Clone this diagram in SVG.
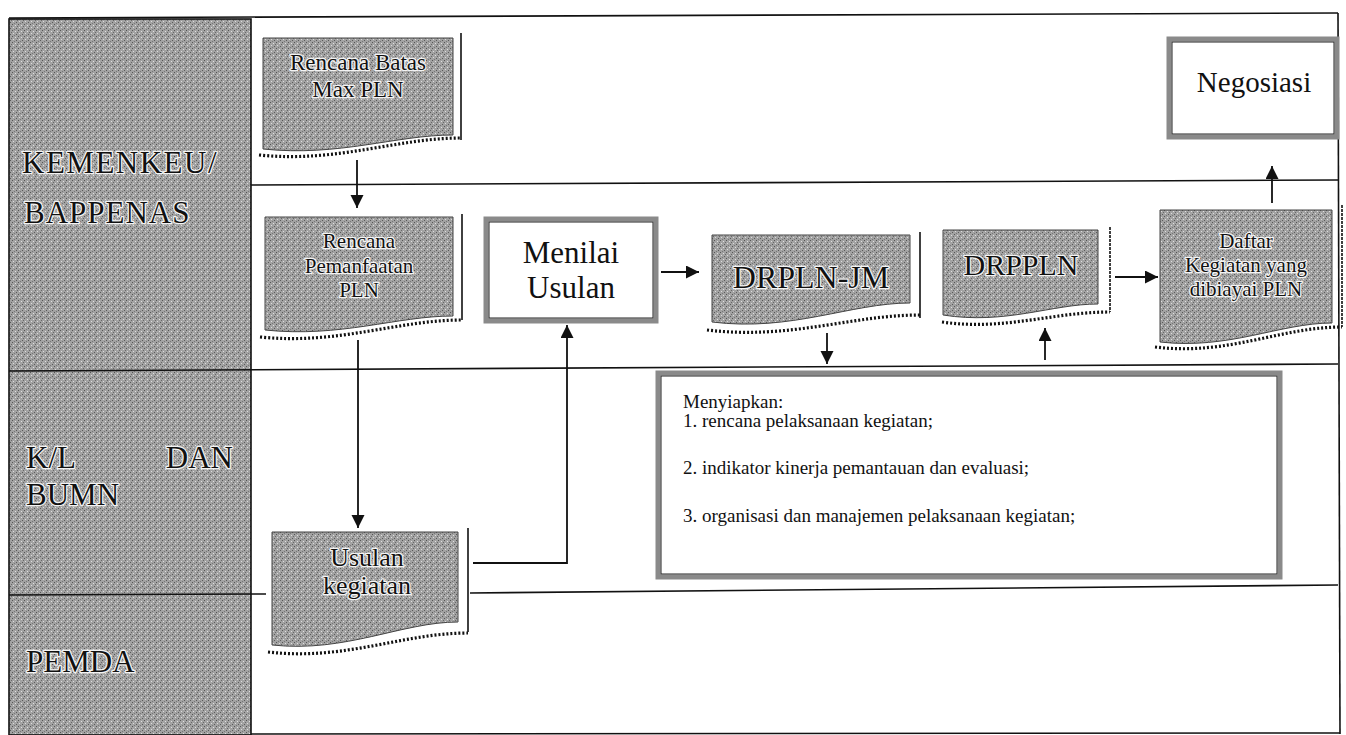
<svg xmlns="http://www.w3.org/2000/svg" width="1346" height="735" viewBox="0 0 1346 735">
<style>
.lane{stroke:#111;stroke-width:1.6;fill:none}
.doc{fill:url(#grain);stroke:#444;stroke-width:1}
.side{stroke:#111;stroke-width:1.6;fill:none}
.dots{stroke:#111;stroke-width:3.2;stroke-dasharray:2 2;fill:none}
.box{fill:#fff;stroke:#8a8a8a;stroke-width:5}
.boxin{fill:none;stroke:#222;stroke-width:1}
.conn{stroke:#111;stroke-width:1.8;fill:none}
.ht{font-family:"Liberation Serif","Times New Roman",serif;fill:#111;stroke:#f4f4f4;stroke-width:2.5;paint-order:stroke;stroke-linejoin:round}
.t{font-family:"Liberation Serif","Times New Roman",serif;fill:#111}
</style>
<defs>
<pattern id="grain" width="6" height="6" patternUnits="userSpaceOnUse">
<rect width="6" height="6" fill="#a2a2a2"/>
<rect x="0" y="0" width="1" height="1" fill="#555"/>
<rect x="3" y="1" width="1" height="1" fill="#e0e0e0"/>
<rect x="1" y="3" width="1" height="1" fill="#dcdcdc"/>
<rect x="4" y="4" width="1" height="1" fill="#5a5a5a"/>
<rect x="2" y="5" width="1" height="1" fill="#777"/>
<rect x="5" y="2" width="1" height="1" fill="#686868"/>
</pattern>
<marker id="ah" markerUnits="userSpaceOnUse" markerWidth="14" markerHeight="14" refX="13" refY="6.5" orient="auto">
<path d="M0,0 L13,6.5 L0,13 Z" fill="#111"/>
</marker>
</defs>

<g id="lanes">
<rect x="9" y="19" width="242" height="716" fill="url(#grain)" stroke="#111" stroke-width="1.6"/>
<line class="lane" x1="9" y1="18" x2="1338" y2="13"/>
<line class="lane" x1="251" y1="185" x2="1338" y2="180"/>
<line class="lane" x1="9" y1="371" x2="1338" y2="364"/>
<line class="lane" x1="9" y1="595" x2="266" y2="594"/>
<line class="lane" x1="470" y1="593" x2="1338" y2="585"/>
<line class="lane" x1="251" y1="734" x2="1340" y2="733"/>
<line class="lane" x1="1338" y1="13" x2="1340" y2="734"/>
<text class="ht" x="22" y="173" font-size="31" letter-spacing="1.5">KEMENKEU/</text>
<text class="ht" x="24" y="223" font-size="31" letter-spacing="1">BAPPENAS</text>
<text class="ht" x="26" y="468" font-size="31">K/L</text>
<text class="ht" x="233" y="468" font-size="31" text-anchor="end">DAN</text>
<text class="ht" x="26" y="505" font-size="31">BUMN</text>
<text class="ht" x="26" y="672" font-size="31">PEMDA</text>
</g>

<g id="connectors">
<line class="conn" x1="357" y1="160" x2="357" y2="208" marker-end="url(#ah)"/>
<line class="conn" x1="358" y1="340" x2="358" y2="528" marker-end="url(#ah)"/>
<polyline class="conn" points="473,563 567,563 567,325" marker-end="url(#ah)"/>
<line class="conn" x1="661" y1="272" x2="699" y2="272" marker-end="url(#ah)"/>
<line class="conn" x1="827" y1="333" x2="827" y2="364" marker-end="url(#ah)"/>
<line class="conn" x1="1045" y1="360" x2="1045" y2="328" marker-end="url(#ah)"/>
<line class="conn" x1="1115" y1="277" x2="1158" y2="277" marker-end="url(#ah)"/>
<line class="conn" x1="1272" y1="203" x2="1272" y2="166" marker-end="url(#ah)"/>
</g>

<g id="rencana-batas">
<path class="doc" d="M263,38 H453 V135 C396,135 339,157 263,149 Z"/>
<line class="side" x1="461" y1="33" x2="461" y2="140"/>
<path class="dots" d="M259,155 C339,163 396,138 461,138"/>
<text class="ht" font-size="23" text-anchor="middle"><tspan x="358" y="70">Rencana Batas</tspan><tspan x="358" y="97">Max PLN</tspan></text>
</g>

<g id="rencana-pemanfaatan">
<path class="doc" d="M265,217 H453 V316 C397,316 340,338 265,330 Z"/>
<line class="side" x1="462" y1="214" x2="462" y2="320"/>
<path class="dots" d="M260,337 C340,345 397,320 462,320"/>
<text class="ht" font-size="21" text-anchor="middle"><tspan x="359" y="248">Rencana</tspan><tspan x="359" y="273">Pemanfaatan</tspan><tspan x="359" y="297">PLN</tspan></text>
</g>

<g id="menilai-usulan">
<rect class="box" x="486" y="219" width="170" height="102"/>
<rect class="boxin" x="489" y="222" width="164" height="96"/>
<text class="t" font-size="31" text-anchor="middle"><tspan x="571" y="263">Menilai</tspan><tspan x="571" y="298">Usulan</tspan></text>
</g>

<g id="drpln-jm">
<path class="doc" d="M712,235 H910 V303 C851,303 791,332 712,322 Z"/>
<line class="side" x1="920" y1="232" x2="920" y2="318"/>
<path class="dots" d="M707,330 C791,340 851,315 920,315"/>
<text class="ht" x="811" y="288" font-size="32" text-anchor="middle">DRPLN-JM</text>
</g>

<g id="drppln">
<path class="doc" d="M943,230 H1098 V304 C1052,304 1005,325 943,315 Z"/>
<line class="side" x1="1110" y1="227" x2="1110" y2="312" stroke-dasharray="3 1"/>
<path class="dots" d="M942,322 C1005,331 1052,312 1110,312"/>
<text class="ht" x="1021" y="275" font-size="30" text-anchor="middle">DRPPLN</text>
</g>

<g id="daftar-kegiatan">
<path class="doc" d="M1160,210 H1332 V323 C1280,323 1229,350 1160,342 Z"/>
<line class="side" x1="1342" y1="205" x2="1342" y2="327" stroke-dasharray="3 1"/>
<path class="dots" d="M1155,347 C1229,356 1280,327 1342,327"/>
<text class="ht" font-size="21" text-anchor="middle"><tspan x="1246" y="248">Daftar</tspan><tspan x="1246" y="272">Kegiatan yang</tspan><tspan x="1246" y="296">dibiayai PLN</tspan></text>
</g>

<g id="negosiasi">
<rect class="box" x="1169" y="39" width="168" height="98"/>
<rect class="boxin" x="1172" y="42" width="162" height="92"/>
<text class="t" x="1254" y="92" font-size="29" text-anchor="middle">Negosiasi</text>
</g>

<g id="menyiapkan">
<rect class="box" x="658" y="373" width="622" height="204"/>
<rect class="boxin" x="661" y="376" width="616" height="198"/>
<text class="t" font-size="19"><tspan x="683" y="408">Menyiapkan:</tspan><tspan x="683" y="427">1. rencana pelaksanaan kegiatan;</tspan><tspan x="683" y="474">2. indikator kinerja pemantauan dan evaluasi;</tspan><tspan x="683" y="522">3. organisasi dan manajemen pelaksanaan kegiatan;</tspan></text>
</g>

<g id="usulan-kegiatan">
<path class="doc" d="M272,532 H458 V622 C402,622 346,653 272,645 Z"/>
<line class="side" x1="468" y1="528" x2="468" y2="632"/>
<path class="dots" d="M268,652 C346,661 402,633 468,633"/>
<text class="ht" font-size="26" text-anchor="middle"><tspan x="367" y="566">Usulan</tspan><tspan x="367" y="594">kegiatan</tspan></text>
</g>
</svg>
